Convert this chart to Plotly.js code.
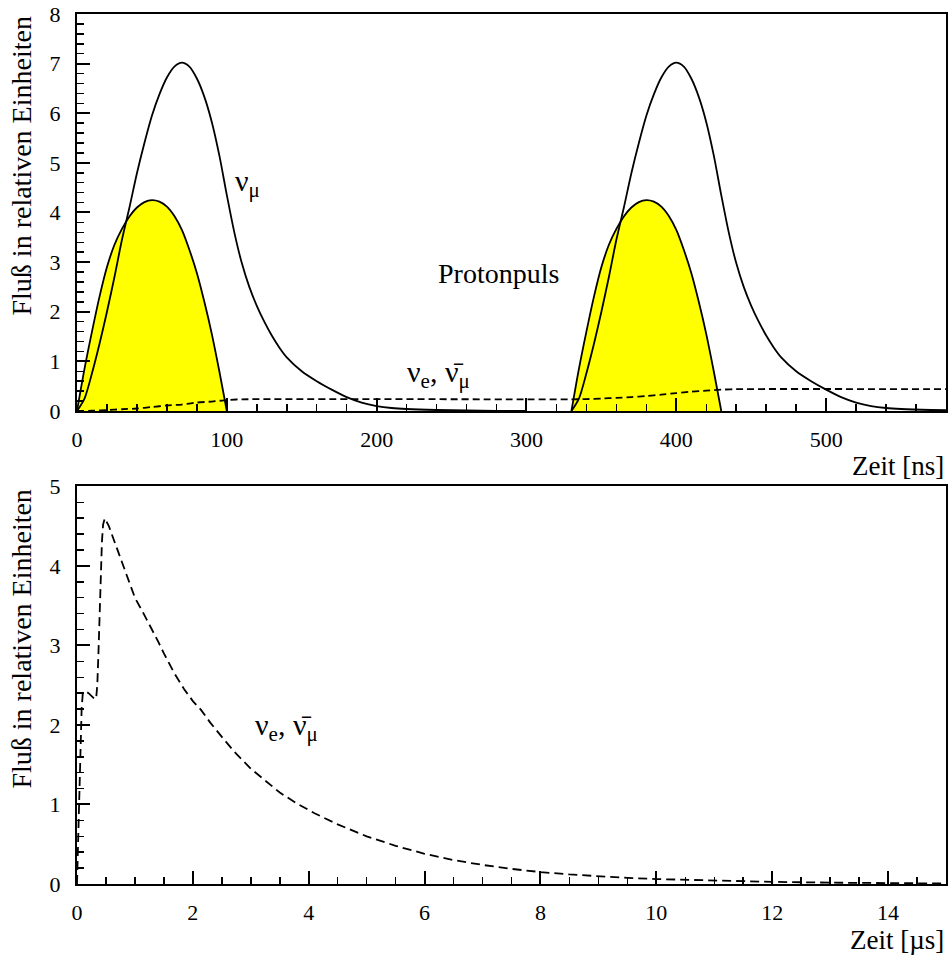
<!DOCTYPE html>
<html>
<head>
<meta charset="utf-8">
<script src="https://cdn.plot.ly/plotly-3.0.1.min.js"></script>
<style>html,body{margin:0;padding:0;background:#fff;}#chart{width:948px;height:957px;}</style>
</head>
<body>
<div id="chart"></div>
<script>
// ---- Top panel (time in ns) ----
// Proton pulse (yellow), first pulse
const pulseT = [0,5,10,15,20,25,30,35,40,45,50,55,60,65,70,75,80,85,90,95,100];
const pulseV = [0,0.85,1.6,2.3,2.9,3.35,3.67,3.92,4.1,4.21,4.25,4.22,4.12,3.93,3.65,3.25,2.78,2.2,1.55,0.8,0];
// nu_mu flux, first pulse
const numuT = [0,5,10,15,20,25,30,35,40,45,50,55,60,65,70,75,80,85,90,95,100,105,110,115,120,125,130,135,140,150,160,170,180,190,200,210,220,240,260,280,300];
const numuV = [0,0.25,0.76,1.35,2.0,2.7,3.45,4.1,4.79,5.4,5.95,6.38,6.72,6.94,7.02,6.94,6.7,6.33,5.82,5.15,4.35,3.6,2.98,2.5,2.12,1.8,1.52,1.28,1.08,0.8,0.6,0.43,0.28,0.17,0.1,0.06,0.04,0.02,0.01,0.0,0];
// second pulse comes 330 ns later with the same shape
const pulseSpacing = 330;
// nu_e / anti-nu_mu flux in ns window
const nueT = [0,10,20,30,40,50,60,70,80,90,100,110,330,340,350,360,370,380,390,400,410,420,430,440,580];
const nueV = [0,0.005,0.02,0.035,0.05,0.08,0.11,0.13,0.17,0.19,0.22,0.235,0.235,0.24,0.25,0.265,0.28,0.3,0.33,0.36,0.39,0.41,0.43,0.44,0.44];

// ---- Bottom panel (time in microseconds) ----
const nueLongT = [0,0.02,0.05,0.08,0.1,0.15,0.2,0.25,0.3,0.33,0.35,0.37,0.39,0.41,0.43,0.45,0.48,0.55,0.62,0.7,0.8,0.87,1.0,1.15,1.27,1.4,1.5,1.68,1.85,2.0,2.14,2.3,2.5,2.72,3.0,3.29,3.5,3.8,4.1,4.5,5,5.5,6,6.5,7,7.5,8,8.5,9,9.5,10,11,12,13,14,15];
const nueLongV = [0,0.6,1.6,2.2,2.4,2.42,2.4,2.36,2.33,2.33,2.5,2.9,3.4,3.9,4.3,4.52,4.6,4.5,4.36,4.2,4.0,3.85,3.6,3.4,3.24,3.05,2.9,2.65,2.45,2.3,2.19,2.03,1.85,1.66,1.45,1.27,1.15,1.01,0.89,0.75,0.6,0.48,0.38,0.3,0.24,0.19,0.15,0.12,0.095,0.077,0.062,0.04,0.027,0.017,0.01,0.006];

const xTopTicks = [0,100,200,300,400,500];
const yTopTicks = [0,1,2,3,4,5,6,7,8];
const xBotTicks = [0,2,4,6,8,10,12,14];
const yBotTicks = [0,1,2,3,4,5];

const FONT = '"Liberation Serif", "Times New Roman", "DejaVu Serif", serif';
const shift = a => a.map(t => t + pulseSpacing);

const solid = {color:'black', width:1.8, shape:'spline', smoothing:0.8};
const dashedTop = {color:'black', width:1.8, dash:'7px,4px', shape:'spline', smoothing:0.6};
const dashedBot = {color:'black', width:1.8, dash:'9px,5px'};

const traces = [
  {x: pulseT, y: pulseV, xaxis:'x', yaxis:'y', mode:'lines', fill:'tozeroy', fillcolor:'#ffff00', line:solid, hoverinfo:'skip'},
  {x: shift(pulseT), y: pulseV, xaxis:'x', yaxis:'y', mode:'lines', fill:'tozeroy', fillcolor:'#ffff00', line:solid, hoverinfo:'skip'},
  {x: numuT, y: numuV, xaxis:'x', yaxis:'y', mode:'lines', line:solid},
  {x: shift(numuT), y: numuV, xaxis:'x', yaxis:'y', mode:'lines', line:solid},
  {x: nueT, y: nueV, xaxis:'x', yaxis:'y', mode:'lines', line:dashedTop},
  {x: nueLongT, y: nueLongV, xaxis:'x2', yaxis:'y2', mode:'lines', line:dashedBot}
];

const axBase = {
  showline:true, mirror:true, linecolor:'black', linewidth:2,
  showgrid:false, zeroline:false,
  ticks:'inside', ticklen:13, tickwidth:2, tickcolor:'black',
  tickfont:{family:FONT, size:22, color:'black'},
  tickmode:'array'
};
const minorOf = d => ({dtick:d, ticks:'inside', ticklen:7, tickwidth:1.5, tickcolor:'black', showgrid:false});

const layout = {
  width:948, height:957,
  margin:{l:77, r:2, t:14, b:73},
  paper_bgcolor:'white', plot_bgcolor:'white',
  showlegend:false,
  font:{family:FONT, color:'black'},
  xaxis: Object.assign({}, axBase, {domain:[0,1], anchor:'y', range:[0,580], tickvals:xTopTicks, ticktext:xTopTicks.map(String), minor:minorOf(20), ticklabelstandoff:8}),
  yaxis: Object.assign({}, axBase, {domain:[0.5437,1], anchor:'x', range:[0,8], tickvals:yTopTicks, ticktext:yTopTicks.map(String), minor:minorOf(0.2), ticklabelstandoff:10}),
  xaxis2: Object.assign({}, axBase, {domain:[0,1], anchor:'y2', range:[0,15], tickvals:xBotTicks, ticktext:xBotTicks.map(String), minor:minorOf(0.5), ticklabelstandoff:8}),
  yaxis2: Object.assign({}, axBase, {domain:[0,0.457], anchor:'x2', range:[0,5], tickvals:yBotTicks, ticktext:yBotTicks.map(String), minor:minorOf(0.2), ticklabelstandoff:10}),
  annotations:[
    {xref:'paper', yref:'paper', x:-0.0633, y:1.0, xanchor:'center', yanchor:'top', textangle:-90, showarrow:false,
     text:'Fluß in relativen Einheiten', font:{family:FONT, size:28, color:'black'}},
    {xref:'paper', yref:'paper', x:-0.0633, y:0.4563, xanchor:'center', yanchor:'top', textangle:-90, showarrow:false,
     text:'Fluß in relativen Einheiten', font:{family:FONT, size:28, color:'black'}},
    {xref:'paper', yref:'paper', x:1.0, y:0.4805, xanchor:'right', yanchor:'middle', showarrow:false,
     text:'Zeit [ns]', font:{family:FONT, size:27, color:'black'}},
    {xref:'paper', yref:'paper', x:1.0, y:-0.0644, xanchor:'right', yanchor:'middle', showarrow:false,
     text:'Zeit [\u00b5s]', font:{family:FONT, size:27, color:'black'}},
    {xref:'x', yref:'y', x:104, y:4.6, xanchor:'left', yanchor:'middle', showarrow:false,
     text:'\u03bd<sub>\u03bc</sub>', font:{family:FONT, size:30, color:'black'}},
    {xref:'x', yref:'y', x:281, y:2.78, xanchor:'center', yanchor:'middle', showarrow:false,
     text:'Protonpuls', font:{family:FONT, size:28, color:'black'}},
    {xref:'x', yref:'y', x:219, y:0.75, xanchor:'left', yanchor:'middle', showarrow:false,
     text:'\u03bd<sub>e</sub>, \u03bd\u0304<sub>\u03bc</sub>', font:{family:FONT, size:30, color:'black'}},
    {xref:'x2', yref:'y2', x:3.04, y:1.97, xanchor:'left', yanchor:'middle', showarrow:false,
     text:'\u03bd<sub>e</sub>, \u03bd\u0304<sub>\u03bc</sub>', font:{family:FONT, size:30, color:'black'}}
  ]
};

Plotly.newPlot('chart', traces, layout, {staticPlot:true, displayModeBar:false});
</script>
</body>
</html>
